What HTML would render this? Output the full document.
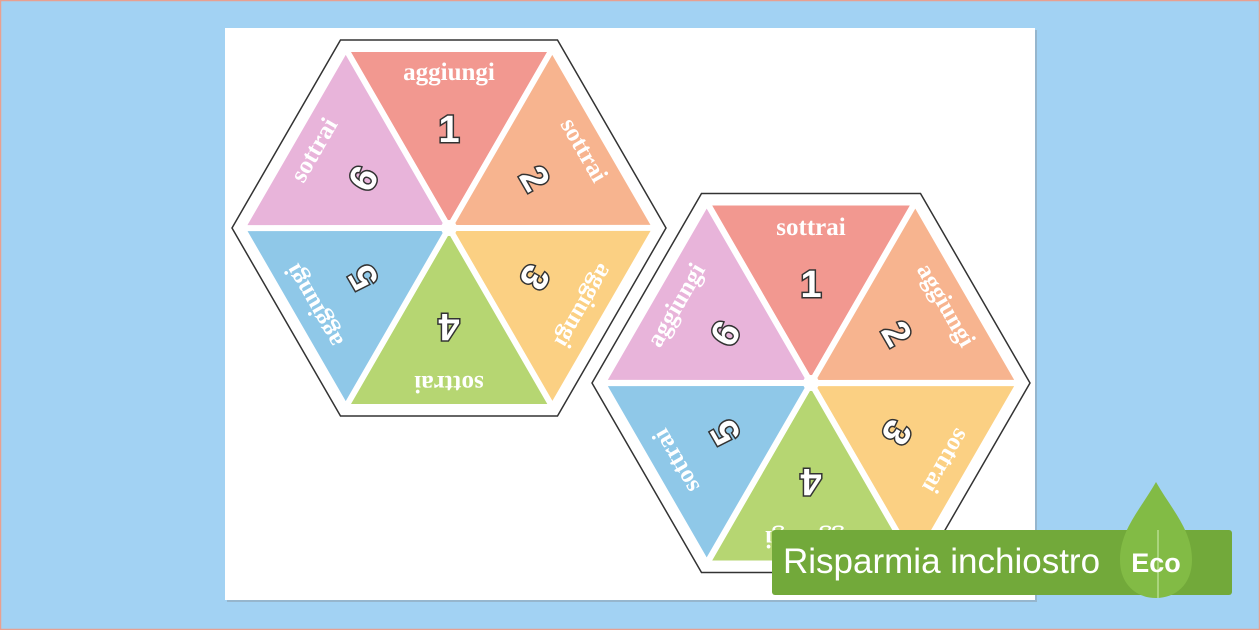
<!DOCTYPE html>
<html><head><meta charset="utf-8"><style>
html,body{margin:0;padding:0;}
body{width:1260px;height:630px;overflow:hidden;background:#a2d2f3;}
svg{display:block;}
.l{font-family:"Liberation Serif",serif;font-weight:bold;font-size:25px;fill:#fff;text-anchor:middle;}
.n{font-family:"Liberation Sans",sans-serif;font-weight:bold;font-size:38px;fill:#fff;stroke:#333;stroke-width:3;paint-order:stroke;text-anchor:middle;}
</style></head><body>
<svg width="1260" height="630" viewBox="0 0 1260 630">
<rect x="0.5" y="0.5" width="1259" height="629" fill="#a2d2f3" stroke="#e8a090" stroke-width="1.5"/>
<rect x="227" y="30" width="810" height="572" fill="#8a9aa8" opacity="0.5"/>
<rect x="225" y="28" width="810" height="572" fill="#fff"/>

<!-- Hexagon 1 -->
<g transform="translate(449,228)">
<polygon points="217,0 108.5,188 -108.5,188 -217,0 -108.5,-188 108.5,-188" fill="#fff" stroke="#333" stroke-width="1.5"/>
<g stroke="#fff" stroke-width="6" stroke-linejoin="round">
<polygon transform="rotate(0)" points="0,0 -103.5,-179 103.5,-179" fill="#f29890"/>
<polygon transform="rotate(60)" points="0,0 -103.5,-179 103.5,-179" fill="#f7b48f"/>
<polygon transform="rotate(120)" points="0,0 -103.5,-179 103.5,-179" fill="#fbd083"/>
<polygon transform="rotate(180)" points="0,0 -103.5,-179 103.5,-179" fill="#b6d672"/>
<polygon transform="rotate(240)" points="0,0 -103.5,-179 103.5,-179" fill="#8fc8e8"/>
<polygon transform="rotate(300)" points="0,0 -103.5,-179 103.5,-179" fill="#e8b4da"/>
</g>
<circle r="8" fill="#fff"/>
<g transform="rotate(0)"><text class="l" y="-148">aggiungi</text><text class="n" y="-86">1</text></g>
<g transform="rotate(60)"><text class="l" y="-148">sottrai</text><text class="n" y="-86">2</text></g>
<g transform="rotate(120)"><text class="l" y="-148">aggiungi</text><text class="n" y="-86">3</text></g>
<g transform="rotate(180)"><text class="l" y="-148">sottrai</text><text class="n" y="-86">4</text></g>
<g transform="rotate(240)"><text class="l" y="-148">aggiungi</text><text class="n" y="-86">5</text></g>
<g transform="rotate(300)"><text class="l" y="-148">sottrai</text><text class="n" y="-86">6</text></g>
</g>

<!-- Hexagon 2 -->
<g transform="translate(811,383)">
<polygon points="219,0 109.5,189.5 -109.5,189.5 -219,0 -109.5,-189.5 109.5,-189.5" fill="#fff" stroke="#333" stroke-width="1.5"/>
<g stroke="#fff" stroke-width="6" stroke-linejoin="round">
<polygon transform="rotate(0)" points="0,0 -104,-180.5 104,-180.5" fill="#f29890"/>
<polygon transform="rotate(60)" points="0,0 -104,-180.5 104,-180.5" fill="#f7b48f"/>
<polygon transform="rotate(120)" points="0,0 -104,-180.5 104,-180.5" fill="#fbd083"/>
<polygon transform="rotate(180)" points="0,0 -104,-180.5 104,-180.5" fill="#b6d672"/>
<polygon transform="rotate(240)" points="0,0 -104,-180.5 104,-180.5" fill="#8fc8e8"/>
<polygon transform="rotate(300)" points="0,0 -104,-180.5 104,-180.5" fill="#e8b4da"/>
</g>
<circle r="8" fill="#fff"/>
<g transform="rotate(0)"><text class="l" y="-148">sottrai</text><text class="n" y="-86">1</text></g>
<g transform="rotate(60)"><text class="l" y="-148">aggiungi</text><text class="n" y="-86">2</text></g>
<g transform="rotate(120)"><text class="l" y="-148">sottrai</text><text class="n" y="-86">3</text></g>
<g transform="rotate(180)"><text class="l" y="-148">aggiungi</text><text class="n" y="-86">4</text></g>
<g transform="rotate(240)"><text class="l" y="-148">sottrai</text><text class="n" y="-86">5</text></g>
<g transform="rotate(300)"><text class="l" y="-148">aggiungi</text><text class="n" y="-86">6</text></g>
</g>

<!-- Eco banner -->
<rect x="772" y="530" width="460" height="65" rx="3" fill="#72a93a"/>
<path d="M1156,482 C1140,510 1120,530 1120,560 C1120,585 1137,598 1156,598 C1175,598 1192,585 1192,560 C1192,530 1172,510 1156,482 Z" fill="#82bb45"/>
<line x1="1158" y1="530" x2="1158" y2="598" stroke="#b8dc90" stroke-width="1.5"/>
<text x="783" y="573" font-family="Liberation Sans,sans-serif" font-size="35" fill="#fff">Risparmia inchiostro</text>
<text x="1156" y="572" font-family="Liberation Sans,sans-serif" font-size="27" font-weight="bold" fill="#fff" text-anchor="middle">Eco</text>
</svg>
</body></html>
